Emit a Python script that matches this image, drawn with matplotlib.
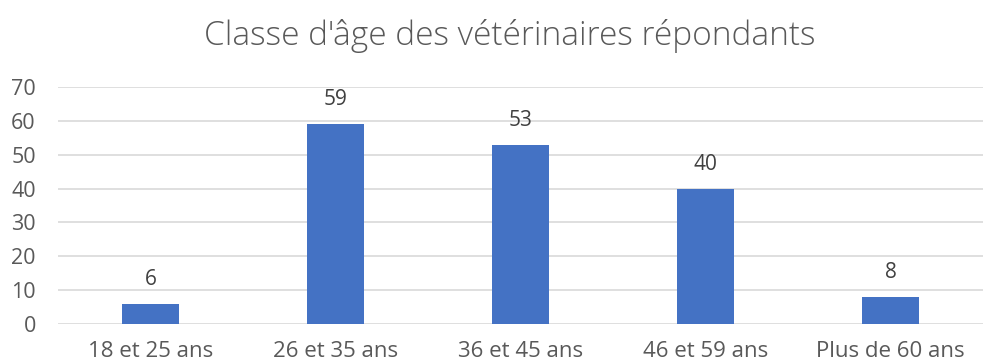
import matplotlib.pyplot as plt
import numpy as np

# Age classes and number of respondents
categories = ['18 et 25 ans', '26 et 35 ans', '36 et 45 ans', '46 et 59 ans', 'Plus de 60 ans']
counts = [6, 59, 53, 40, 8]
yticks = [0, 10, 20, 30, 40, 50, 60, 70]

BAR_COLOR = '#4472C4'
GRID_COLOR = '#D9D9D9'
TEXT_COLOR = '#595959'

plt.rcParams['font.family'] = ['Open Sans', 'DejaVu Sans']

fig = plt.figure(figsize=(9.83, 3.64), dpi=100)
ax = fig.add_axes([0.059, 0.110, 0.941, 0.651])

x = np.arange(len(categories))
bars = ax.bar(x, counts, width=0.31, color=BAR_COLOR, zorder=3)

# value labels above each bar
for rect, val in zip(bars, counts):
    ax.text(rect.get_x() + rect.get_width() / 2, val + 5.6, str(val),
            ha='center', va='baseline', fontsize=15, color='#404040')

ax.set_xlim(-0.5, len(categories) - 0.5)
ax.set_ylim(0, 70)
ax.set_yticks(yticks)
ax.set_xticks(x)
ax.set_xticklabels(categories)
ax.yaxis.grid(True, color=GRID_COLOR, linewidth=1.2, zorder=0)
ax.tick_params(axis='both', length=0, labelcolor=TEXT_COLOR)
ax.tick_params(axis='x', pad=12, labelsize=16)
ax.tick_params(axis='y', pad=16, labelsize=15.5)
for spine in ax.spines.values():
    spine.set_visible(False)

fig.text(0.519, 0.876, "Classe d'âge des vétérinaires répondants",
         ha='center', va='baseline', fontsize=24, color=TEXT_COLOR,
         fontweight='light')

fig.savefig('out.png', dpi=100)
